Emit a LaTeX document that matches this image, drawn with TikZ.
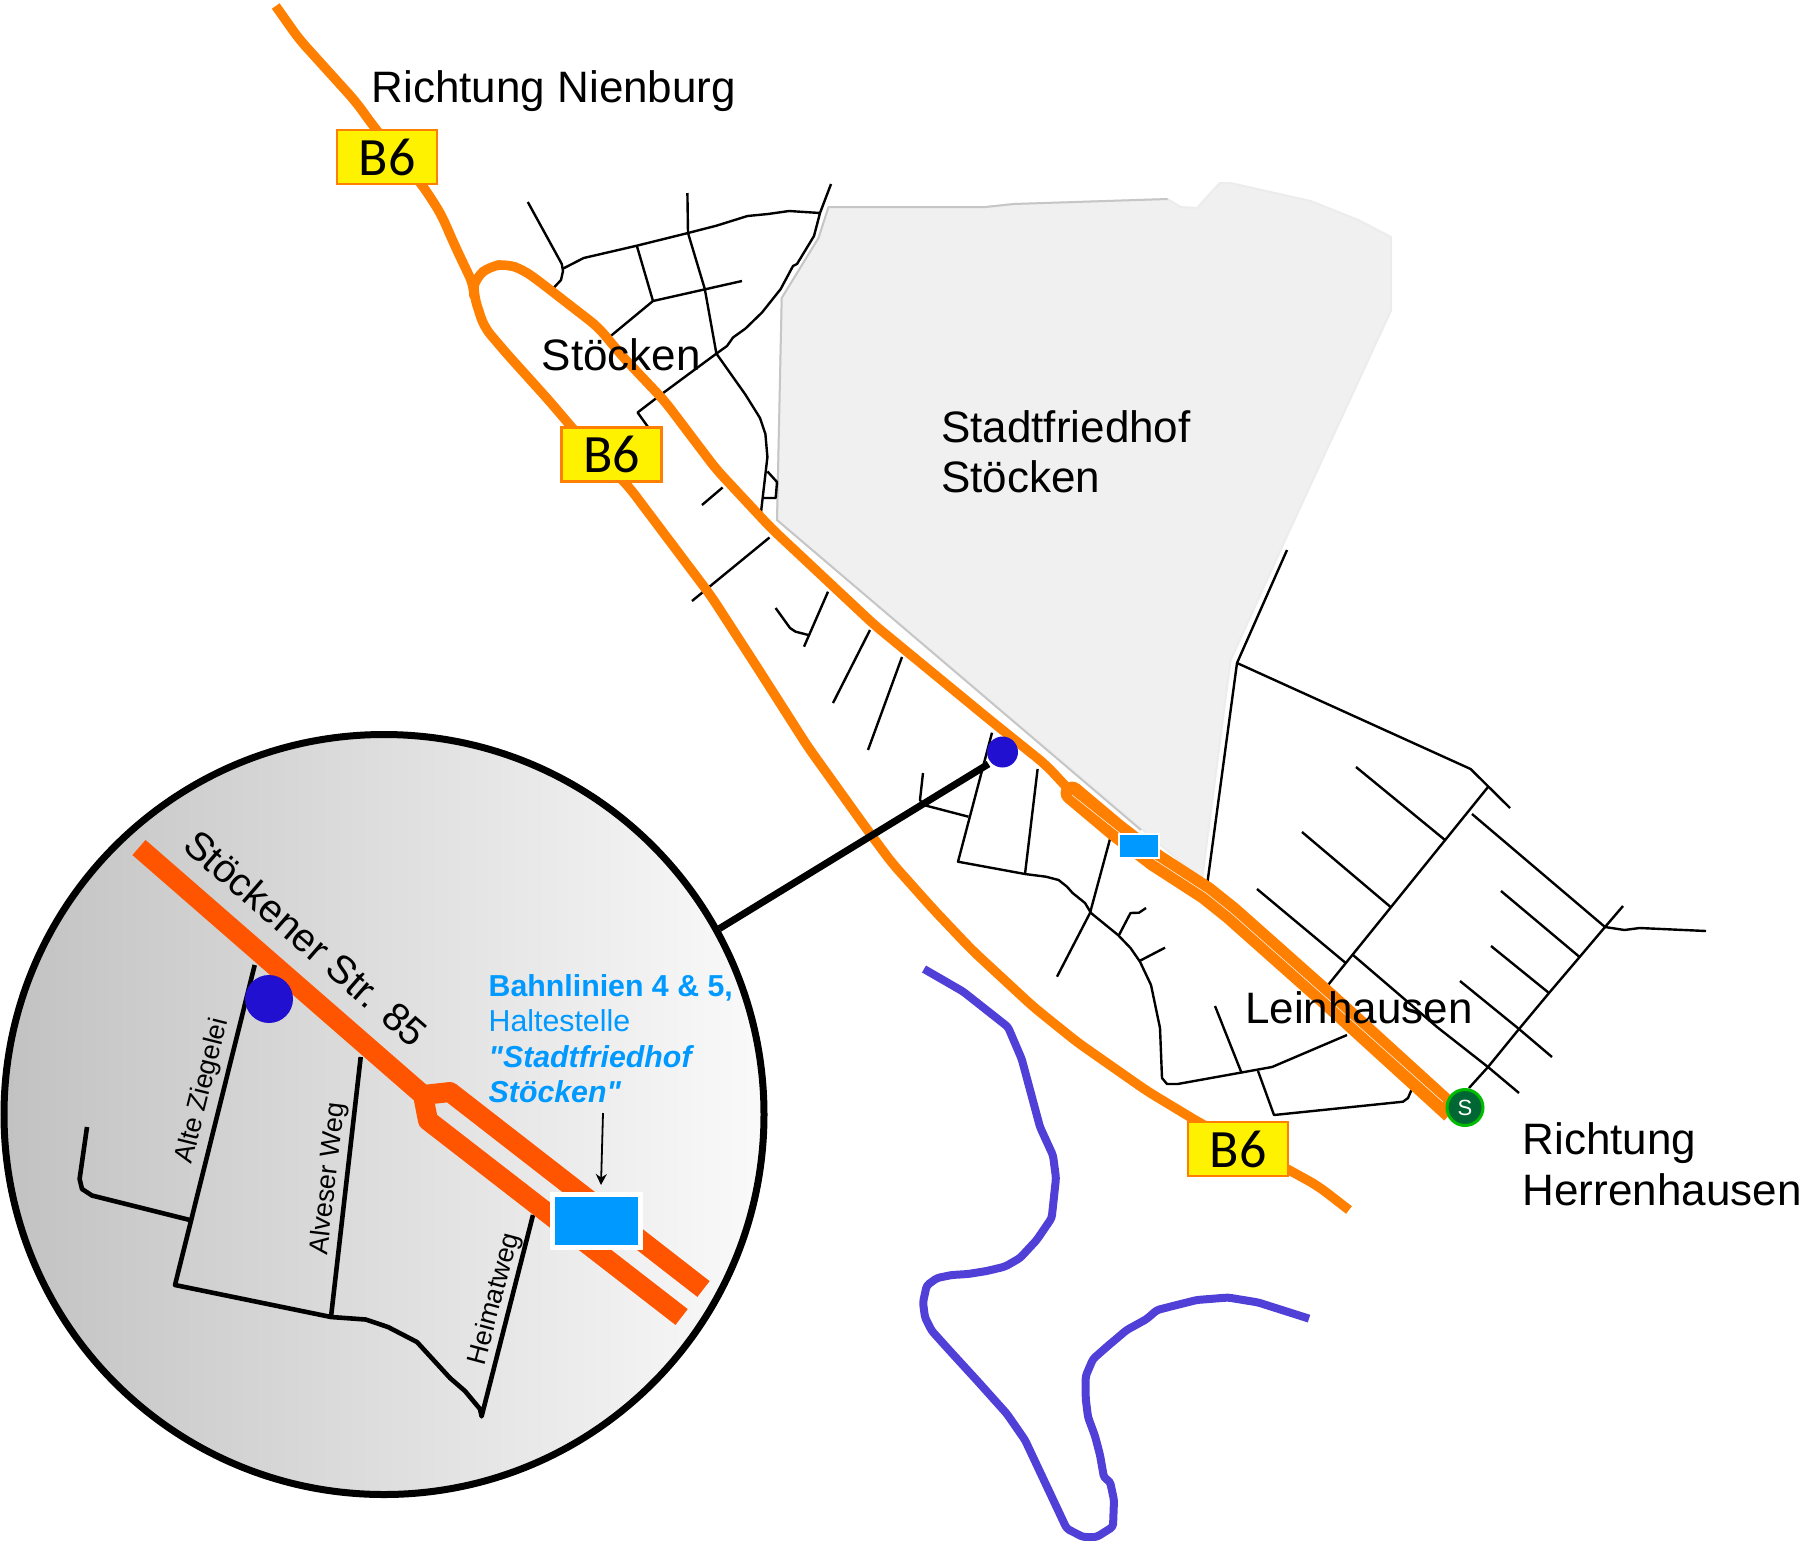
\documentclass[tikz,border=0pt]{standalone}
\usepackage{fontspec}
\setmainfont{Liberation Sans}
\newfontfamily\signfont{Carlito}
\newfontfamily\bahnfont{Liberation Sans}
\usetikzlibrary{positioning, arrows.meta}
\definecolor{roadorange}{HTML}{FF7F00}
\definecolor{insetorange}{HTML}{FF5500}
\definecolor{tramblue}{HTML}{0099FF}
\definecolor{dotblue}{HTML}{2210D0}
\definecolor{riverblue}{HTML}{5040D8}
\definecolor{gravegray}{HTML}{F0F0F0}
\definecolor{sbahngreen}{HTML}{006633}
\definecolor{sbahnring}{HTML}{00BB00}
\tikzstyle{road} = [line width=9.5, roadorange, line join=round, rounded corners=10]
\tikzstyle{street} = [line width=2.4, black, line join=round]
\tikzstyle{inroad} = [line width=20, insetorange, line join=round]
\tikzstyle{instreet} = [line width=4.6, black, line join=round]
\tikzstyle{river} = [line width=8, riverblue, line join=round, rounded corners=3]
\tikzstyle{sign} = [rectangle, minimum width=100, minimum height=54, inner sep=0,
draw=roadorange, line width=2.5, fill=yellow, font=\signfont\fontsize{54}{54}\selectfont]
\tikzstyle{place} = [font=\fontsize{44}{50.5}\selectfont, align=left, inner sep=0]
\tikzstyle{inlabel} = [font=\fontsize{27}{30}\selectfont, inner sep=0]
\begin{document}
\begin{tikzpicture}[x=1pt, y=-1pt]
\useasboundingbox (0,0) rectangle (1799,1540);

%-------cemetery-------------------
\fill [gravegray, draw=gray!15, line width=2] (828.5,207) -- (985.5,207) -- (1013.7,204)
-- (1167.6,199) -- (1180.6,207) -- (1197,208) -- (1219.7,183) -- (1230.5,183)
-- (1310.7,201) -- (1358.4,220) -- (1391,237) -- (1391,310.6) -- (1287,536)
-- (1230.5,660.5) -- (1202,880) -- (777,520) -- (781.7,298) -- (818.5,238) -- cycle;
\draw [line width=2, gray!45, line join=round] (1167.6,199) -- (1013.7,204) -- (985.5,207)
-- (828.5,207) -- (818.5,238) -- (781.7,298) -- (777,520) -- (1141,830);

%-------streets north-------------------
\draw [street] (527.8,202) -- (561.8,264) -- (563,271) -- (561,280) -- (554,287.5);
\draw [street] (563,268.6) -- (583.7,258) -- (636.8,245.7) -- (688,233) -- (716.4,225.7)
-- (747.5,216) -- (768,214) -- (789,211) -- (820,213);
\draw [street] (831,184) -- (820,213) -- (814,236) -- (797,264) -- (793,266) -- (780.7,289)
-- (762,312.5) -- (745.4,328.6) -- (733,337.5) -- (727,346) -- (716.4,353.6);
\draw [street] (687.4,193) -- (688,233) -- (704.8,289) -- (716.4,353.6) -- (745.4,394.6)
-- (760,418) -- (765.4,434) -- (767.4,457) -- (760.8,514);
\draw [street] (636.8,245.7) -- (653,301);
\draw [street] (742,281) -- (653,301) -- (610.7,336);
\draw [street] (716.4,353.6) -- (660.4,395) -- (637.6,412.5) -- (648,427);
\draw [street] (767.4,471.4) -- (777,482) -- (775.7,498) -- (764,498);
\draw [street] (722.6,487.5) -- (702,505);
\draw [street] (769.5,537.5) -- (692,601);

%-------streets middle-------------------
\draw [street] (828,591.7) -- (804,646.7);
\draw [street] (775.6,608) -- (790,628) -- (795.6,631.7) -- (808.5,635);
\draw [street] (870,630) -- (833,703);
\draw [street] (902,657) -- (868,750);
\draw [street] (992,732.7) -- (958,861.7) -- (1025,874) -- (1046,876.7) -- (1058.6,880)
-- (1067,886.7) -- (1072.6,893) -- (1085,903) -- (1091,913) -- (1118,935) -- (1130.5,948)
-- (1140,961.7) -- (1151,985) -- (1160,1028) -- (1162,1078) -- (1167,1084) -- (1177.6,1084)
-- (1272,1067) -- (1347,1035);
\draw [street] (1037.6,769) -- (1025,874);
\draw [street] (923,773) -- (920,800) -- (923.6,805) -- (968.5,816.7);
\draw [street] (1110,839) -- (1090,913) -- (1057,976.7);
\draw [street] (1119,935) -- (1130.5,913) -- (1139,912.7) -- (1146,908);
\draw [street] (1140,960.7) -- (1165,947.7);
\draw [street] (1215,1006) -- (1241.6,1073);
\draw [street] (1258,1071) -- (1274,1115) -- (1403,1101.7) -- (1408,1098) -- (1411.4,1090);

%-------streets east-------------------
\draw [street] (1206,893) -- (1237,663) -- (1287,550);
\draw [street] (1237,663) -- (1470.6,769) -- (1510,808);
\draw [street] (1488,787) -- (1321.6,993);
\draw [street] (1356,767) -- (1445,840);
\draw [street] (1302,832) -- (1390.6,907);
\draw [street] (1257,889) -- (1345.7,963);
\draw [street] (1472,814) -- (1605,927);
\draw [street] (1623,906) -- (1605,927) -- (1579.6,957) -- (1549,993) -- (1519,1029)
-- (1488,1067) -- (1469,1088);
\draw [street] (1605,927) -- (1624.5,930) -- (1639.6,928) -- (1706,931);
\draw [street] (1501,891) -- (1579.6,957);
\draw [street] (1491,946) -- (1549,993);
\draw [street] (1460,981) -- (1519,1029) -- (1552,1057);
\draw [street] (1353,955) -- (1437,1027) -- (1488,1067) -- (1519,1093);

%-------rivers-------------------
\draw [river] (924,969) -- (963,991.5) -- (1008,1027) -- (1021.7,1059) -- (1040,1127)
-- (1053,1155.4) -- (1056,1178) -- (1051.7,1218) -- (1036.7,1240) -- (1020,1258)
-- (1005,1266.6) -- (986.7,1271) -- (968,1274) -- (951.7,1275) -- (937,1278)
-- (926.7,1285.5) -- (923,1302.4) -- (925,1317.5) -- (931.7,1330.7) -- (950,1351)
-- (978,1381.6) -- (1006.7,1413.6) -- (1025,1440) -- (1066.7,1528.6) -- (1083,1537)
-- (1096.7,1537) -- (1113,1526.7) -- (1114,1500) -- (1110,1481.5) -- (1104,1477.7)
-- (1100,1455) -- (1095,1436) -- (1088,1417) -- (1085.7,1398.6) -- (1085.7,1376)
-- (1093,1359) -- (1108,1345.8) -- (1126.7,1330) -- (1146.7,1319) -- (1157,1310)
-- (1196.7,1300) -- (1228,1297.5) -- (1258,1302.4) -- (1309,1318.6);

%-------B6 road-------------------
\draw [road] (275.7,6) -- (299,39) -- (356,102) -- (374,127) -- (424,187.5) -- (441,214)
-- (455,246) -- (474,286) -- (474,296) -- (484,327) -- (507,354) -- (548.5,400)
-- (577.5,434) -- (629,487) -- (711,596) -- (755,664) -- (808,747)
-- (867.5,830) -- (892,863) -- (934,910) -- (972,950) -- (1033,1006.5) -- (1077,1042)
-- (1147,1091) -- (1200,1123) -- (1290,1170.5) -- (1318,1186) -- (1349,1210);
\draw [road] (474,286) -- (476,277) -- (490.5,266) -- (507,264) -- (523.6,270) -- (540,282)
-- (598,327) -- (623,357) -- (664.6,401) -- (716,469) -- (771,528)
-- (874.5,625) -- (990,720) -- (1046,765) -- (1072,793);

%-------double track-------------------
\fill [roadorange] (1072,793) circle (11.5);
\draw [line width=23, roadorange, line join=round] (1072,793) -- (1116,830) -- (1155,860)
-- (1206,893) -- (1231,913) -- (1329,1000) -- (1452,1112);
\draw [line width=0.5, white] (1072,795) -- (1116,830) -- (1155,860) -- (1206,893)
-- (1231,913) -- (1329,1000) -- (1443,1102);

%-------stops and signs-------------------
\node (tram) [rectangle, minimum width=40, minimum height=24, inner sep=0, draw=white,
line width=2, fill=tramblue] at (1139,846) {};
\node (sbahn) [circle, minimum size=36, inner sep=0, draw=sbahnring, line width=3,
fill=sbahngreen, text=white, font=\fontsize{22}{22}\selectfont] at (1465,1107.5) {S};
\node (signN) [sign] at (387,157) {B6};
\node (signM) [sign] at (611.5,454.5) {B6};
\node (signS) [sign] at (1238,1149) {B6};

%-------inset-------------------
\node (lens) [circle, minimum size=760, inner sep=0, draw=black, line width=7,
left color=black!24, right color=black!2] at (384,1114.5) {};
\coordinate (leadEnd) at (988.5,764);
\draw [line width=7, black] (lens.29) -- (leadEnd);
\node (dotMap) [circle, minimum size=31, inner sep=0, fill=dotblue] at (1002.5,752) {};

\draw [instreet] (254.7,965) -- (175,1285) -- (331,1317) -- (365.7,1319.5) -- (388,1327)
-- (417,1342) -- (450,1378) -- (465,1391) -- (480,1409) -- (481.6,1416.4) -- (533,1215);
\draw [instreet] (331,1317) -- (360.7,1057);
\draw [instreet] (87,1127) -- (79.6,1179) -- (82,1189) -- (92,1195.5) -- (190,1220);

\draw [inroad] (139,847.5) -- (423,1095) -- (428,1120.5) -- (681.6,1317);
\draw [inroad] (423,1095) -- (450,1092) -- (703.5,1289);

\node (dotLens) [circle, minimum size=48, inner sep=0, fill=dotblue] at (269,999) {};
\node (tramLens) [rectangle, minimum width=88, minimum height=53, inner sep=0, draw=white,
line width=5, fill=tramblue] at (596.5,1221) {};
\coordinate (tipStart) at (603,1113);
\coordinate (tipEnd) at (601,1185);
\draw [-{Stealth[length=11,width=11]}, line width=1.8] (tipStart) -- (tipEnd);

%-------labels-------------------
\node (nienburg) [place, anchor=base west] at (371.5,102) {Richtung Nienburg};
\node (stoecken) [place, anchor=base west] at (541.5,370) {Stöcken};
\node (friedhof) [place, anchor=west] at (941,452) {Stadtfriedhof\\Stöcken};
\node (leinhausen) [place, anchor=base west] at (1245,1023) {Leinhausen};
\node (herrenh) [place, anchor=west] at (1522.5,1164.5) {Richtung\\Herrenhausen};

\node (strasse) [inlabel, font=\fontsize{39.5}{40}\selectfont, rotate=-41] at (306,938) {Stöckener Str. 85};
\node (ziegelei) [inlabel, rotate=76] at (203,1091) {Alte Ziegelei};
\node (alveser) [inlabel, rotate=83.4] at (329,1179) {Alveser Weg};
\node (heimat) [inlabel, rotate=75] at (495,1299) {Heimatweg};

\node (bahn) [align=left, anchor=north west, inner sep=0, text=tramblue,
font=\bahnfont\fontsize{30.3}{35.6}\selectfont] at (488.5,974)
{\textbf{Bahnlinien 4 \& 5,}\\Haltestelle\\\textbf{\textit{"Stadtfriedhof}}\\\textbf{\textit{Stöcken"}}};

\end{tikzpicture}
\end{document}
